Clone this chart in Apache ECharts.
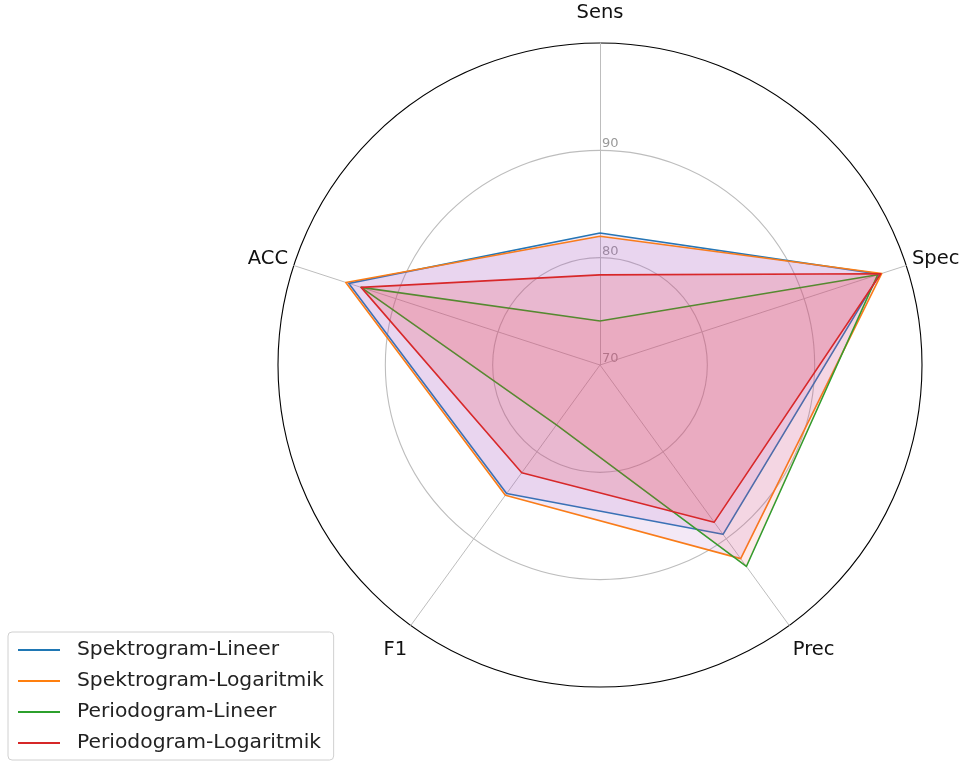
<!DOCTYPE html>
<html>
<head>
<meta charset="utf-8">
<script src="https://cdn.jsdelivr.net/npm/echarts@6/dist/echarts.min.js"></script>
<style>
  html, body { margin: 0; padding: 0; background: #fff; }
  #chart { width: 959px; height: 765px; }
</style>
</head>
<body>
<div id="chart"></div>
<script>
// axes, clockwise from top
const metrics = ["Sens", "Spec", "Prec", "F1", "ACC"];
const rTicks = [70, 80, 90];

const seriesNames = [
  "Spektrogram-Lineer",
  "Spektrogram-Logaritmik",
  "Periodogram-Lineer",
  "Periodogram-Logaritmik",
];
const spekLineer = [82.3, 97.4, 89.5, 84.8, 94.6];
const spekLog = [82.0, 97.6, 92.3, 85.0, 94.9];
const perLineer = [74.1, 97.2, 93.2, 76.9, 93.4];
const perLog = [78.4, 97.5, 88.1, 82.4, 93.4];

const lineColors = ["#1f77b4", "#ff7f0e", "#2ca02c", "#d62728"];
const fillColors = [
  "rgba(170,95,190,0.2)",
  "rgba(170,95,190,0.2)",
  "rgba(245,70,80,0.16)",
  "rgba(235,55,65,0.26)",
];

// echarts radar runs counter-clockwise, so feed the axes in reverse (keeping Sens first)
const order = [0, 4, 3, 2, 1];
const pick = (arr) => order.map((i) => arr[i]);

const chart = echarts.init(document.getElementById("chart"));
const cx = 600, cy = 365, R = 322;
const font = "DejaVu Sans";

const allData = [spekLineer, spekLog, perLineer, perLog];

const option = {
  animation: false,
  textStyle: { fontFamily: font },
  legend: {
    orient: "vertical",
    left: 8,
    top: 632,
    padding: [8, 10, 7, 10],
    itemGap: 11,
    itemWidth: 42,
    itemHeight: 2,
    icon: "rect",
    borderColor: "#d0d0d0",
    borderWidth: 1,
    borderRadius: 4,
    textStyle: { fontSize: 20.3, color: "#222", fontFamily: font, padding: [0, 0, 0, 12] },
    data: seriesNames,
  },
  radar: {
    center: [cx, cy],
    radius: R,
    shape: "circle",
    startAngle: 90,
    splitNumber: 3,
    indicator: pick(metrics).map((m) => ({ name: m, min: 70, max: 100 })),
    axisName: {
      color: "#111",
      fontSize: 19.5,
      fontFamily: font,
      formatter: (name) => {
        if (name === "Sens") return "{top|" + name + "}";
        if (name === "F1" || name === "Prec") return "{bot|" + name + "}";
        return "{side|" + name + "}";
      },
      rich: {
        top: { fontSize: 19.5, fontFamily: font, color: "#111", padding: [0, 0, 14, 0] },
        bot: { fontSize: 19.5, fontFamily: font, color: "#111", padding: [40, 0, 0, 0] },
        side: { fontSize: 19.5, fontFamily: font, color: "#111", padding: [0, 0, 10, 0] },
      },
    },
    nameGap: 6,
    axisLine: { lineStyle: { color: "#bdbdbd", width: 1 } },
    splitLine: {
      lineStyle: { color: ["#bdbdbd", "#bdbdbd", "#bdbdbd", "#000"], width: 1.1 },
    },
    splitArea: { show: false },
    axisTick: { show: false },
    axisLabel: { show: false },
  },
  polar: { center: [cx, cy], radius: R },
  angleAxis: {
    startAngle: 90,
    show: false,
    type: "value",
    min: 0,
    max: 360,
  },
  radiusAxis: {
    type: "value",
    min: 70,
    max: 100,
    interval: 10,
    axisLine: { show: false },
    axisTick: { show: false },
    splitLine: { show: false },
    axisLabel: {
      color: "#999",
      fontSize: 13,
      fontFamily: font,
      formatter: (v) => (rTicks.includes(v) ? String(v) : ""),
      align: "left",
      verticalAlign: "bottom",
      margin: -2,
    },
  },
  series: [
    {
      type: "radar",
      symbol: "none",
      data: allData.map((d, i) => ({
        name: seriesNames[i],
        value: pick(d),
        lineStyle: { color: lineColors[i], width: 1.6 },
        itemStyle: { color: lineColors[i] },
        areaStyle: { color: fillColors[i] },
      })),
    },
  ],
};

chart.setOption(option);
</script>
</body>
</html>
